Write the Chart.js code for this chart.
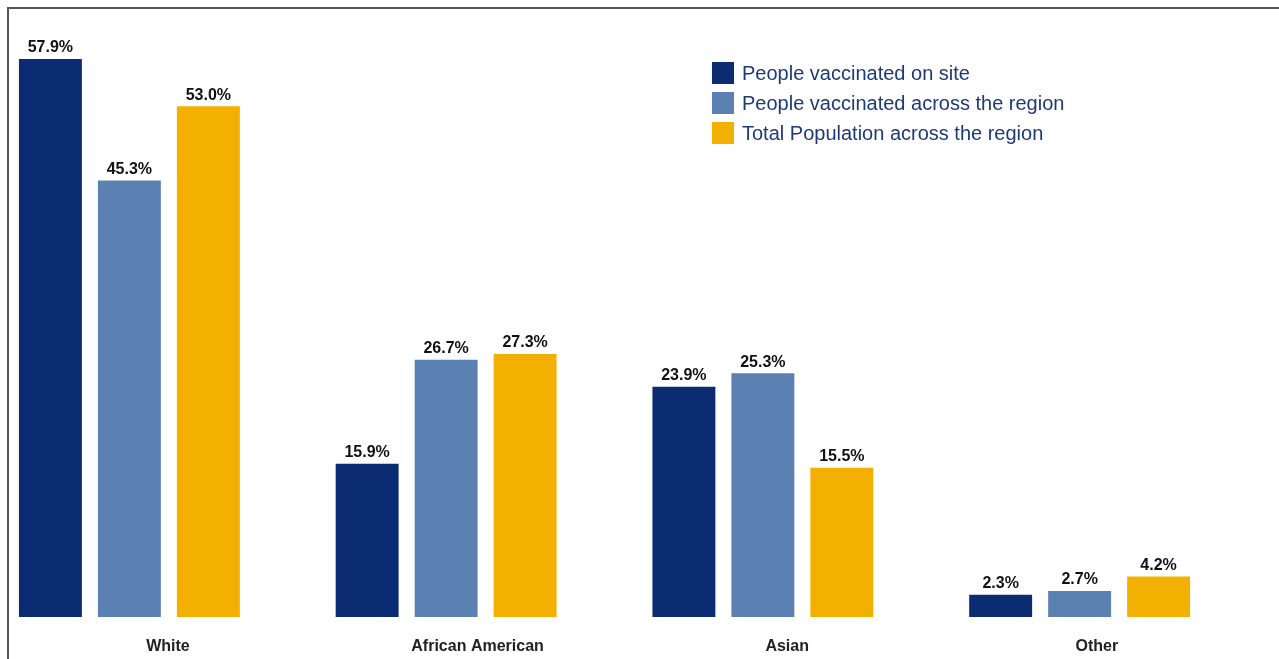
<!DOCTYPE html>
<html>
<head>
<meta charset="utf-8">
<script src="https://cdn.jsdelivr.net/npm/chart.js@4.4.1/dist/chart.umd.min.js"></script>
<style>
  html, body { margin: 0; padding: 0; background: #fff; overflow: hidden; }
  #frame { position: absolute; left: 7px; top: 7px; width: 1290px; height: 670px;
           border-left: 2px solid #555; border-top: 2px solid #555; }
  #wrap { position: absolute; left: -29px; top: 0; width: 1267px; height: 659px; }
</style>
</head>
<body>
<div id="frame"></div>
<div id="wrap"><canvas id="chart"></canvas></div>
<script>
const CATEGORIES = ['White', 'African American', 'Asian', 'Other'];
const ON_SITE = [57.9, 15.9, 23.9, 2.3];
const REGION_VACCINATED = [45.3, 26.7, 25.3, 2.7];
const REGION_POPULATION = [53.0, 27.3, 15.5, 4.2];
const SERIES_LABELS = [
  'People vaccinated on site',
  'People vaccinated across the region',
  'Total Population across the region',
];

const DARK_BLUE = '#0b2c72';
const STEEL_BLUE = '#5b81b3';
const GOLD = '#f4b000';
const FONT = 'Arial, "Liberation Sans", sans-serif';

// value labels above each bar
const barLabels = {
  id: 'barLabels',
  afterDatasetsDraw(chart) {
    const ctx = chart.ctx;
    ctx.save();
    ctx.font = `bold 16px ${FONT}`;
    ctx.fillStyle = '#111';
    ctx.textAlign = 'center';
    ctx.textBaseline = 'bottom';
    chart.data.datasets.forEach((ds, i) => {
      chart.getDatasetMeta(i).data.forEach((bar, j) => {
        ctx.fillText(`${ds.data[j].toFixed(1)}%`, bar.x, bar.y - 3);
      });
    });
    ctx.restore();
  },
};

// legend box in the upper right
const boxLegend = {
  id: 'boxLegend',
  afterDraw(chart) {
    const ctx = chart.ctx;
    ctx.save();
    ctx.font = `20px ${FONT}`;
    ctx.textBaseline = 'middle';
    chart.data.datasets.forEach((ds, i) => {
      const y = 73 + i * 30;
      ctx.fillStyle = ds.backgroundColor;
      ctx.fillRect(741, y - 11, 22, 22);
      ctx.fillStyle = '#1d3a78';
      ctx.fillText(ds.label, 771, y + 1);
    });
    ctx.restore();
  },
};

new Chart(document.getElementById('chart'), {
  type: 'bar',
  data: {
    labels: CATEGORIES,
    datasets: [
      { label: SERIES_LABELS[0], data: ON_SITE, backgroundColor: DARK_BLUE },
      { label: SERIES_LABELS[1], data: REGION_VACCINATED, backgroundColor: STEEL_BLUE },
      { label: SERIES_LABELS[2], data: REGION_POPULATION, backgroundColor: GOLD },
    ],
  },
  options: {
    responsive: true,
    maintainAspectRatio: false,
    animation: false,
    datasets: { bar: { categoryPercentage: 0.748, barPercentage: 0.797 } },
    layout: { padding: { top: 19.5, left: 0, right: 0, bottom: 0 } },
    scales: {
      x: { display: false },
      // category names sit a bit right of the bar groups in the original
      xLabels: {
        type: 'linear',
        position: 'bottom',
        offset: false,
        min: -0.636,
        max: 3.456,
        grid: { display: false, drawTicks: false, offset: false },
        border: { display: false },
        afterBuildTicks(scale) {
          scale.ticks = CATEGORIES.map((_, i) => ({ value: i }));
        },
        ticks: {
          color: '#222',
          padding: 20,
          font: { family: FONT, size: 16, weight: 'bold' },
          callback: (v) => CATEGORIES[v],
        },
        afterFit(scale) { scale.height = 42; },
      },
      y: { display: false, min: 0, max: 62 },
    },
    plugins: { legend: { display: false }, tooltip: { enabled: false } },
  },
  plugins: [barLabels, boxLegend],
});
</script>
</body>
</html>
